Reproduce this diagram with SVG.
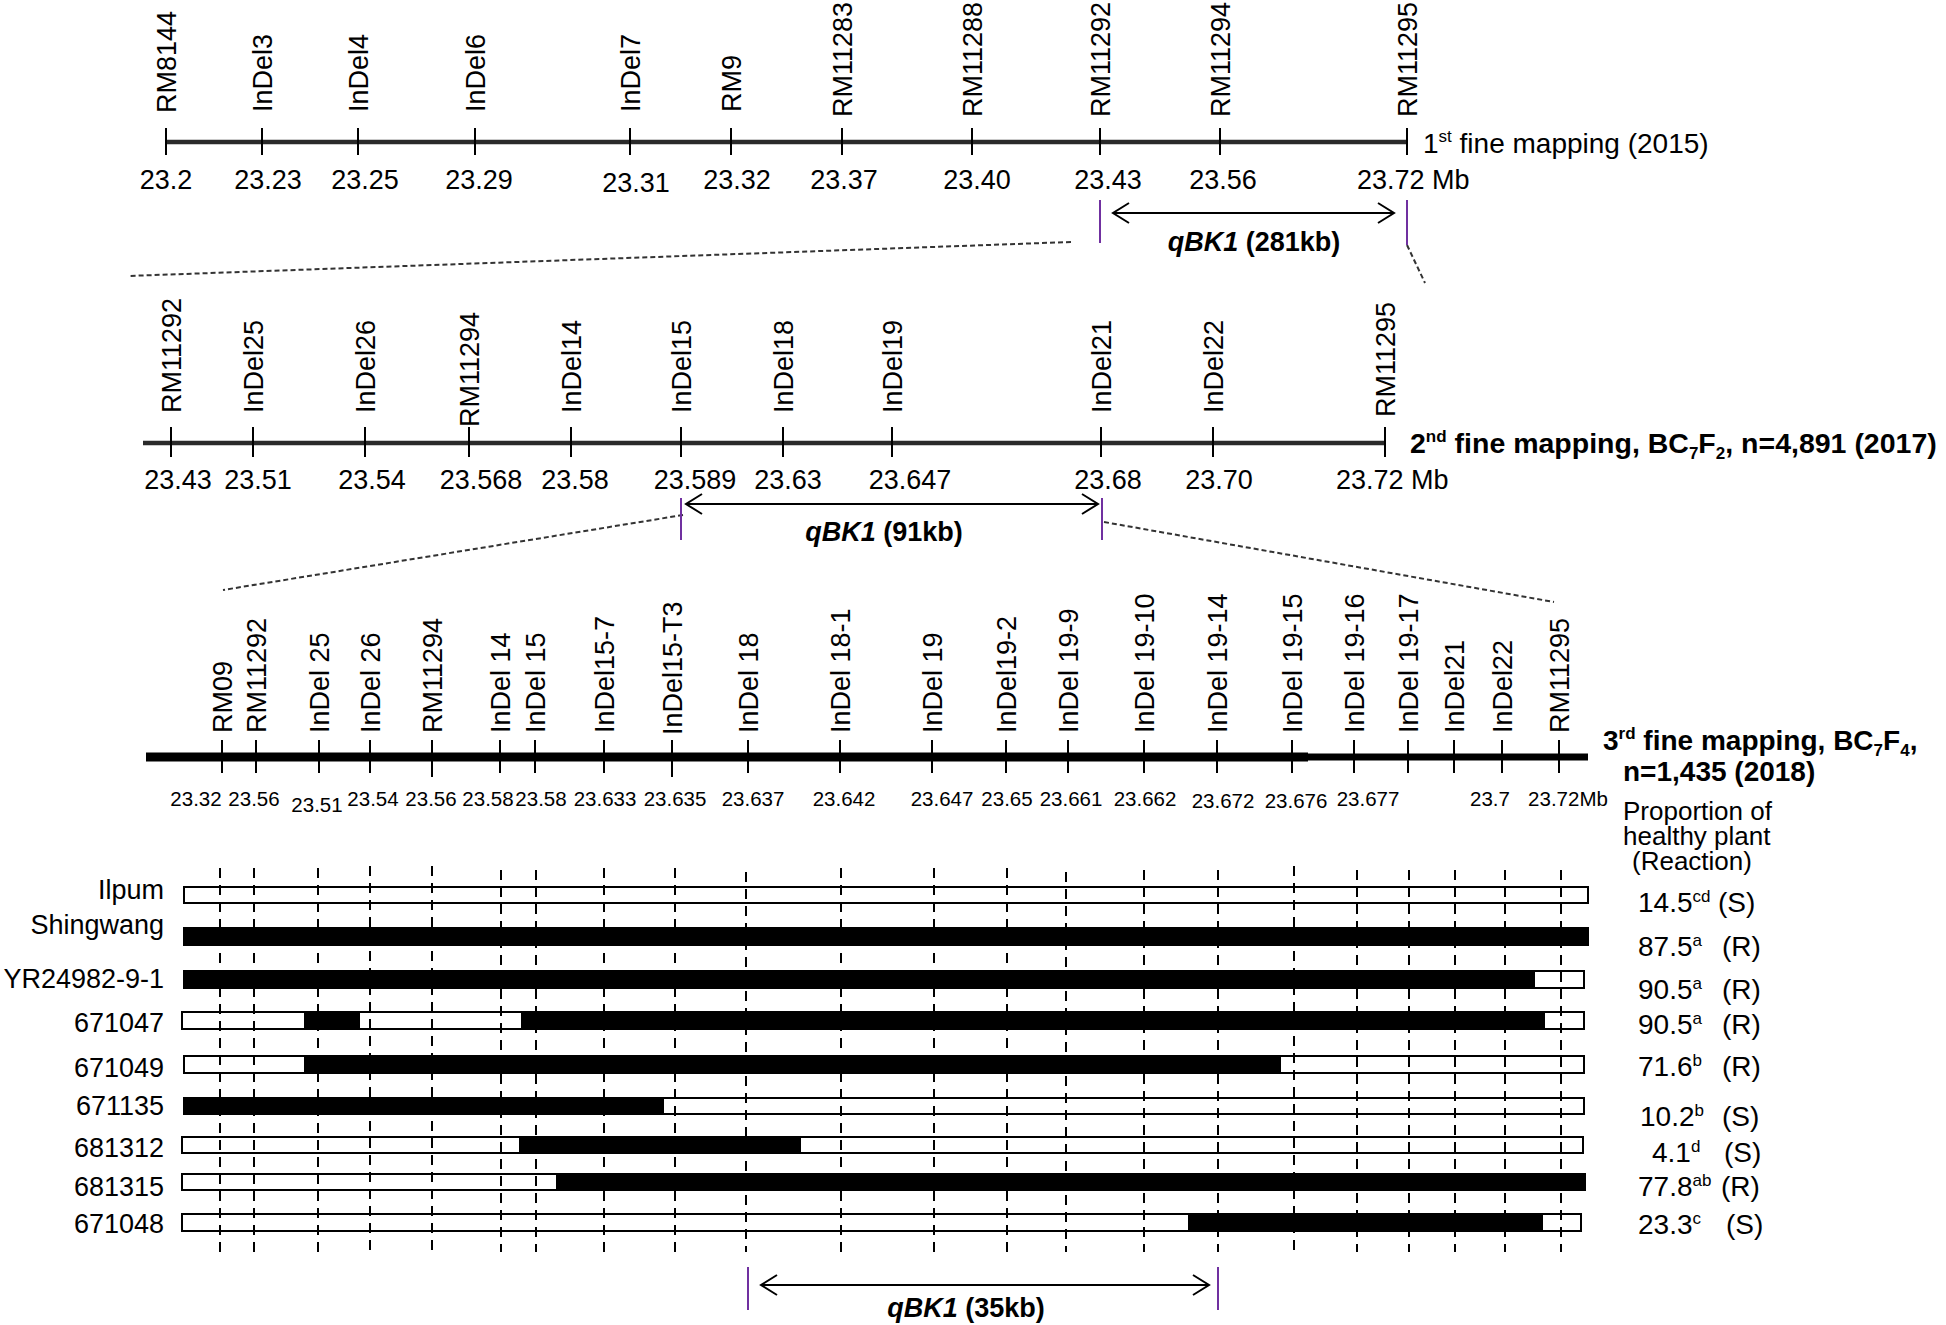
<svg xmlns="http://www.w3.org/2000/svg" width="1946" height="1325" viewBox="0 0 1946 1325">
<defs>
<style>
text{font-family:"Liberation Sans",Arial,sans-serif;fill:#000}
.lab{font-size:27px}
.num{font-size:27px;text-anchor:middle}
.num3{font-size:20.5px;text-anchor:middle}
.b{font-weight:bold}
.tick{stroke:#000;stroke-width:2}
.axis{stroke:#2a2a2a;stroke-width:4.5}
.axis3{stroke:#000}
.vd{stroke:#000;stroke-width:2;stroke-dasharray:10 7}
.zl{stroke:#333;stroke-width:2;stroke-dasharray:5 3;fill:none}
.pu{stroke:#7030a0;stroke-width:2}
.arr{stroke:#000;stroke-width:2;fill:none;marker-start:url(#chev);marker-end:url(#chev)}
.bw{fill:#fff;stroke:#000;stroke-width:2}
.bb{fill:#000;stroke:#000;stroke-width:2}
.val{font-size:28px}
.hdr{font-size:26px}
.sup{font-size:17px}
</style>
<marker id="chev" markerUnits="userSpaceOnUse" markerWidth="24" markerHeight="26" refX="18" refY="12" orient="auto-start-reverse" viewBox="0 0 24 26">
<path d="M2,2 L18,12 L2,22" fill="none" stroke="#000" stroke-width="2"/>
</marker>
</defs>
<rect width="1946" height="1325" fill="#fff"/>

<!-- Tier 1 -->
<g id="tier1">
<line class="axis" x1="166" y1="142" x2="1407" y2="142"/>
<g id="t1-RM8144"><line class="tick" x1="166" y1="128" x2="166" y2="155"/><text class="lab" transform="translate(175.5,113) rotate(-90)">RM8144</text><text class="num" x="166" y="189">23.2</text></g>
<g id="t1-InDel3"><line class="tick" x1="262" y1="128" x2="262" y2="155"/><text class="lab" transform="translate(271.5,112) rotate(-90)">InDel3</text><text class="num" x="268" y="189">23.23</text></g>
<g id="t1-InDel4"><line class="tick" x1="358" y1="128" x2="358" y2="155"/><text class="lab" transform="translate(367.5,112) rotate(-90)">InDel4</text><text class="num" x="365" y="189">23.25</text></g>
<g id="t1-InDel6"><line class="tick" x1="475" y1="128" x2="475" y2="155"/><text class="lab" transform="translate(484.5,112) rotate(-90)">InDel6</text><text class="num" x="479" y="189">23.29</text></g>
<g id="t1-InDel7"><line class="tick" x1="630" y1="128" x2="630" y2="155"/><text class="lab" transform="translate(639.5,112) rotate(-90)">InDel7</text><text class="num" x="636" y="192">23.31</text></g>
<g id="t1-RM9"><line class="tick" x1="731" y1="128" x2="731" y2="155"/><text class="lab" transform="translate(740.5,112) rotate(-90)">RM9</text><text class="num" x="737" y="189">23.32</text></g>
<g id="t1-RM11283"><line class="tick" x1="842" y1="128" x2="842" y2="155"/><text class="lab" transform="translate(851.5,117) rotate(-90)">RM11283</text><text class="num" x="844" y="189">23.37</text></g>
<g id="t1-RM11288"><line class="tick" x1="972" y1="128" x2="972" y2="155"/><text class="lab" transform="translate(981.5,117) rotate(-90)">RM11288</text><text class="num" x="977" y="189">23.40</text></g>
<g id="t1-RM11292"><line class="tick" x1="1100" y1="128" x2="1100" y2="155"/><text class="lab" transform="translate(1109.5,117) rotate(-90)">RM11292</text><text class="num" x="1108" y="189">23.43</text></g>
<g id="t1-RM11294"><line class="tick" x1="1220" y1="128" x2="1220" y2="155"/><text class="lab" transform="translate(1229.5,117) rotate(-90)">RM11294</text><text class="num" x="1223" y="189">23.56</text></g>
<g id="t1-RM11295"><line class="tick" x1="1407" y1="128" x2="1407" y2="155"/><text class="lab" transform="translate(1416.5,117) rotate(-90)">RM11295</text><text class="lab" x="1357" y="189">23.72 Mb</text></g>
<text id="t1-title" class="lab" x="1423" y="153" style="font-size:28px">1<tspan class="sup" dy="-11">st</tspan><tspan dy="11"> fine mapping (2015)</tspan></text>
</g>

<!-- Tier 2 -->
<g id="tier2">
<line class="axis" x1="143" y1="443" x2="1386" y2="443"/>
<g id="t2-RM11292"><line class="tick" x1="171" y1="427" x2="171" y2="457"/><text class="lab" transform="translate(180.5,413) rotate(-90)">RM11292</text><text class="num" x="178" y="489">23.43</text></g>
<g id="t2-InDel25"><line class="tick" x1="253" y1="427" x2="253" y2="457"/><text class="lab" transform="translate(262.5,413) rotate(-90)">InDel25</text><text class="num" x="258" y="489">23.51</text></g>
<g id="t2-InDel26"><line class="tick" x1="365" y1="427" x2="365" y2="457"/><text class="lab" transform="translate(374.5,413) rotate(-90)">InDel26</text><text class="num" x="372" y="489">23.54</text></g>
<g id="t2-RM11294"><line class="tick" x1="469" y1="427" x2="469" y2="457"/><text class="lab" transform="translate(478.5,427) rotate(-90)">RM11294</text><text class="num" x="481" y="489">23.568</text></g>
<g id="t2-InDel14"><line class="tick" x1="571" y1="427" x2="571" y2="457"/><text class="lab" transform="translate(580.5,413) rotate(-90)">InDel14</text><text class="num" x="575" y="489">23.58</text></g>
<g id="t2-InDel15"><line class="tick" x1="681" y1="427" x2="681" y2="457"/><text class="lab" transform="translate(690.5,413) rotate(-90)">InDel15</text><text class="num" x="695" y="489">23.589</text></g>
<g id="t2-InDel18"><line class="tick" x1="783" y1="427" x2="783" y2="457"/><text class="lab" transform="translate(792.5,413) rotate(-90)">InDel18</text><text class="num" x="788" y="489">23.63</text></g>
<g id="t2-InDel19"><line class="tick" x1="892" y1="427" x2="892" y2="457"/><text class="lab" transform="translate(901.5,413) rotate(-90)">InDel19</text><text class="num" x="910" y="489">23.647</text></g>
<g id="t2-InDel21"><line class="tick" x1="1101" y1="427" x2="1101" y2="457"/><text class="lab" transform="translate(1110.5,413) rotate(-90)">InDel21</text><text class="num" x="1108" y="489">23.68</text></g>
<g id="t2-InDel22"><line class="tick" x1="1213" y1="427" x2="1213" y2="457"/><text class="lab" transform="translate(1222.5,413) rotate(-90)">InDel22</text><text class="num" x="1219" y="489">23.70</text></g>
<g id="t2-RM11295"><line class="tick" x1="1385" y1="427" x2="1385" y2="457"/><text class="lab" transform="translate(1394.5,417) rotate(-90)">RM11295</text><text class="lab" x="1336" y="489">23.72 Mb</text></g>
<text id="t2-title" class="lab b" x="1410" y="453" style="font-size:28.5px">2<tspan class="sup" dy="-11">nd</tspan><tspan dy="11"> fine mapping, BC</tspan><tspan class="sup" dy="6">7</tspan><tspan dy="-6">F</tspan><tspan class="sup" dy="6">2</tspan><tspan dy="-6">,  n=4,891 (2017)</tspan></text>
</g>

<!-- Tier 3 -->
<g id="tier3">
<line class="axis3" x1="146" y1="757" x2="1308" y2="757" stroke-width="9"/>
<line class="axis3" x1="1300" y1="757" x2="1588" y2="757" stroke-width="7"/>
<g id="t3-RM09"><line class="tick" x1="222" y1="740" x2="222" y2="773"/><text class="lab" transform="translate(231.5,733) rotate(-90)">RM09</text><text class="num3" x="196" y="806">23.32</text></g>
<g id="t3-RM11292"><line class="tick" x1="256" y1="740" x2="256" y2="773"/><text class="lab" transform="translate(265.5,733) rotate(-90)">RM11292</text><text class="num3" x="254" y="806">23.56</text></g>
<g id="t3-InDel25"><line class="tick" x1="319" y1="740" x2="319" y2="773"/><text class="lab" transform="translate(328.5,733) rotate(-90)">InDel 25</text><text class="num3" x="317" y="812">23.51</text></g>
<g id="t3-InDel26"><line class="tick" x1="370" y1="740" x2="370" y2="773"/><text class="lab" transform="translate(379.5,733) rotate(-90)">InDel 26</text><text class="num3" x="373" y="806">23.54</text></g>
<g id="t3-RM11294"><line class="tick" x1="432" y1="740" x2="432" y2="777"/><text class="lab" transform="translate(441.5,733) rotate(-90)">RM11294</text><text class="num3" x="431" y="806">23.56</text></g>
<g id="t3-InDel14"><line class="tick" x1="500" y1="740" x2="500" y2="773"/><text class="lab" transform="translate(509.5,733) rotate(-90)">InDel 14</text><text class="num3" x="488" y="806">23.58</text></g>
<g id="t3-InDel15"><line class="tick" x1="535" y1="740" x2="535" y2="773"/><text class="lab" transform="translate(544.5,733) rotate(-90)">InDel 15</text><text class="num3" x="541" y="806">23.58</text></g>
<g id="t3-InDel15-7"><line class="tick" x1="604" y1="740" x2="604" y2="773"/><text class="lab" transform="translate(613.5,733) rotate(-90)">InDel15-7</text><text class="num3" x="605" y="806">23.633</text></g>
<g id="t3-InDel15-T3"><line class="tick" x1="672" y1="740" x2="672" y2="777"/><text class="lab" transform="translate(681.5,735) rotate(-90)">InDel15-T3</text><text class="num3" x="675" y="806">23.635</text></g>
<g id="t3-InDel18"><line class="tick" x1="748" y1="740" x2="748" y2="773"/><text class="lab" transform="translate(757.5,733) rotate(-90)">InDel 18</text><text class="num3" x="753" y="806">23.637</text></g>
<g id="t3-InDel18-1"><line class="tick" x1="840" y1="740" x2="840" y2="773"/><text class="lab" transform="translate(849.5,733) rotate(-90)">InDel 18-1</text><text class="num3" x="844" y="806">23.642</text></g>
<g id="t3-InDel19"><line class="tick" x1="932" y1="740" x2="932" y2="773"/><text class="lab" transform="translate(941.5,733) rotate(-90)">InDel 19</text><text class="num3" x="942" y="806">23.647</text></g>
<g id="t3-InDel19-2"><line class="tick" x1="1006" y1="740" x2="1006" y2="773"/><text class="lab" transform="translate(1015.5,733) rotate(-90)">InDel19-2</text><text class="num3" x="1007" y="806">23.65</text></g>
<g id="t3-InDel19-9"><line class="tick" x1="1068" y1="740" x2="1068" y2="773"/><text class="lab" transform="translate(1077.5,733) rotate(-90)">InDel 19-9</text><text class="num3" x="1071" y="806">23.661</text></g>
<g id="t3-InDel19-10"><line class="tick" x1="1144" y1="740" x2="1144" y2="773"/><text class="lab" transform="translate(1153.5,733) rotate(-90)">InDel 19-10</text><text class="num3" x="1145" y="806">23.662</text></g>
<g id="t3-InDel19-14"><line class="tick" x1="1217" y1="740" x2="1217" y2="773"/><text class="lab" transform="translate(1226.5,733) rotate(-90)">InDel 19-14</text><text class="num3" x="1223" y="808">23.672</text></g>
<g id="t3-InDel19-15"><line class="tick" x1="1292" y1="740" x2="1292" y2="773"/><text class="lab" transform="translate(1301.5,733) rotate(-90)">InDel 19-15</text><text class="num3" x="1296" y="808">23.676</text></g>
<g id="t3-InDel19-16"><line class="tick" x1="1354" y1="740" x2="1354" y2="773"/><text class="lab" transform="translate(1363.5,733) rotate(-90)">InDel 19-16</text><text class="num3" x="1368" y="806">23.677</text></g>
<g id="t3-InDel19-17"><line class="tick" x1="1408" y1="740" x2="1408" y2="773"/><text class="lab" transform="translate(1417.5,733) rotate(-90)">InDel 19-17</text></g>
<g id="t3-InDel21"><line class="tick" x1="1454" y1="740" x2="1454" y2="773"/><text class="lab" transform="translate(1463.5,733) rotate(-90)">InDel21</text></g>
<g id="t3-InDel22"><line class="tick" x1="1502" y1="740" x2="1502" y2="773"/><text class="lab" transform="translate(1511.5,733) rotate(-90)">InDel22</text><text class="num3" x="1490" y="806">23.7</text></g>
<g id="t3-RM11295"><line class="tick" x1="1559" y1="740" x2="1559" y2="773"/><text class="lab" transform="translate(1568.5,733) rotate(-90)">RM11295</text><text class="num3" x="1568" y="806">23.72Mb</text></g>
<g id="t3-title">
<text class="lab b" x="1603" y="750" style="font-size:28px">3<tspan class="sup" dy="-11">rd</tspan><tspan dy="11"> fine mapping, BC</tspan><tspan class="sup" dy="6">7</tspan><tspan dy="-6">F</tspan><tspan class="sup" dy="6">4</tspan><tspan dy="-6">,</tspan></text>
<text class="lab b" x="1623" y="781" style="font-size:28px">n=1,435 (2018)</text>
</g>
</g>

<!-- Header of proportion column -->
<g id="prop-header">
<text class="hdr" x="1623" y="820">Proportion  of</text>
<text class="hdr" x="1623" y="845">healthy plant</text>
<text class="hdr" x="1632" y="870">(Reaction)</text>
</g>

<!-- Genotype rows -->
<g id="row-Ilpum"><text class="lab" x="164" y="899" text-anchor="end">Ilpum</text><rect class="bw" x="184" y="887" width="1404" height="16"/>
<text class="val" x="1638" y="912">14.5<tspan class="sup" dy="-10">cd</tspan><tspan x="1718" dy="10">(S)</tspan></text></g>
<g id="row-Shingwang"><text class="lab" x="164" y="934" text-anchor="end">Shingwang</text><rect class="bb" x="184" y="928" width="1404" height="17"/>
<text class="val" x="1638" y="956">87.5<tspan class="sup" dy="-10">a</tspan><tspan x="1722" dy="10">(R)</tspan></text></g>
<g id="row-YR24982-9-1"><text class="lab" x="164" y="988" text-anchor="end">YR24982-9-1</text><rect class="bw" x="184" y="971" width="1400" height="17"/><rect class="bb" x="184" y="971" width="1350" height="17"/>
<text class="val" x="1638" y="999">90.5<tspan class="sup" dy="-10">a</tspan><tspan x="1722" dy="10">(R)</tspan></text></g>
<g id="row-671047"><text class="lab" x="164" y="1032" text-anchor="end">671047</text><rect class="bw" x="182" y="1012" width="1402" height="17"/><rect class="bb" x="305" y="1012" width="54" height="17"/><rect class="bb" x="522" y="1012" width="1022" height="17"/>
<text class="val" x="1638" y="1034">90.5<tspan class="sup" dy="-10">a</tspan><tspan x="1722" dy="10">(R)</tspan></text></g>
<g id="row-671049"><text class="lab" x="164" y="1077" text-anchor="end">671049</text><rect class="bw" x="184" y="1056" width="1400" height="17"/><rect class="bb" x="305" y="1056" width="975" height="17"/>
<text class="val" x="1638" y="1076">71.6<tspan class="sup" dy="-10">b</tspan><tspan x="1722" dy="10">(R)</tspan></text></g>
<g id="row-671135"><text class="lab" x="164" y="1115" text-anchor="end">671135</text><rect class="bw" x="184" y="1098" width="1400" height="16"/><rect class="bb" x="184" y="1098" width="479" height="16"/>
<text class="val" x="1640" y="1126">10.2<tspan class="sup" dy="-10">b</tspan><tspan x="1722" dy="10">(S)</tspan></text></g>
<g id="row-681312"><text class="lab" x="164" y="1157" text-anchor="end">681312</text><rect class="bw" x="182" y="1137" width="1401" height="16"/><rect class="bb" x="520" y="1137" width="280" height="16"/>
<text class="val" x="1652" y="1162">4.1<tspan class="sup" dy="-10">d</tspan><tspan x="1724" dy="10">(S)</tspan></text></g>
<g id="row-681315"><text class="lab" x="164" y="1196" text-anchor="end">681315</text><rect class="bw" x="182" y="1174" width="1403" height="16"/><rect class="bb" x="557" y="1174" width="1028" height="16"/>
<text class="val" x="1638" y="1196">77.8<tspan class="sup" dy="-10">ab</tspan><tspan x="1721" dy="10">(R)</tspan></text></g>
<g id="row-671048"><text class="lab" x="164" y="1233" text-anchor="end">671048</text><rect class="bw" x="182" y="1214" width="1399" height="17"/><rect class="bb" x="1189" y="1214" width="353" height="17"/>
<text class="val" x="1638" y="1234">23.3<tspan class="sup" dy="-10">c</tspan><tspan x="1726" dy="10">(S)</tspan></text></g>

<!-- Vertical dashed guides -->
<g id="guides">
<line class="vd" x1="220" y1="868" x2="220" y2="1252"/>
<line class="vd" x1="254" y1="868" x2="254" y2="1252"/>
<line class="vd" x1="318" y1="868" x2="318" y2="1252"/>
<line class="vd" x1="370" y1="866" x2="370" y2="1252"/>
<line class="vd" x1="432" y1="866" x2="432" y2="1252"/>
<line class="vd" x1="501" y1="870" x2="501" y2="1252"/>
<line class="vd" x1="536" y1="870" x2="536" y2="1252"/>
<line class="vd" x1="604" y1="868" x2="604" y2="1252"/>
<line class="vd" x1="675" y1="868" x2="675" y2="1252"/>
<line class="vd" x1="746" y1="872" x2="746" y2="1252"/>
<line class="vd" x1="841" y1="868" x2="841" y2="1252"/>
<line class="vd" x1="934" y1="868" x2="934" y2="1252"/>
<line class="vd" x1="1007" y1="868" x2="1007" y2="1252"/>
<line class="vd" x1="1066" y1="872" x2="1066" y2="1252"/>
<line class="vd" x1="1144" y1="870" x2="1144" y2="1252"/>
<line class="vd" x1="1218" y1="870" x2="1218" y2="1252"/>
<line class="vd" x1="1294" y1="866" x2="1294" y2="1252"/>
<line class="vd" x1="1357" y1="870" x2="1357" y2="1252"/>
<line class="vd" x1="1409" y1="870" x2="1409" y2="1252"/>
<line class="vd" x1="1455" y1="870" x2="1455" y2="1252"/>
<line class="vd" x1="1505" y1="870" x2="1505" y2="1252"/>
<line class="vd" x1="1561" y1="870" x2="1561" y2="1252"/>
</g>

<!-- Connectors: zoom lines, interval markers and arrows -->
<g id="connectors">
<line class="zl" x1="1071" y1="242" x2="128" y2="276"/>
<line class="zl" x1="1407" y1="245" x2="1425" y2="283"/>
<line class="zl" x1="683" y1="515" x2="223" y2="590"/>
<line class="zl" x1="1104" y1="522" x2="1554" y2="602"/>
<line class="pu" x1="1100" y1="200" x2="1100" y2="243"/>
<line class="pu" x1="1407" y1="200" x2="1407" y2="245"/>
<line class="pu" x1="681" y1="498" x2="681" y2="540"/>
<line class="pu" x1="1102" y1="498" x2="1102" y2="540"/>
<line class="pu" x1="748" y1="1267" x2="748" y2="1310"/>
<line class="pu" x1="1218" y1="1267" x2="1218" y2="1310"/>
<line class="arr" x1="1113" y1="213" x2="1394" y2="213"/>
<line class="arr" x1="686" y1="504" x2="1098" y2="504"/>
<line class="arr" x1="761" y1="1285" x2="1209" y2="1285"/>
</g>

<g id="interval-labels">
<text class="lab b" x="1254" y="251" text-anchor="middle" style="font-size:27px"><tspan font-style="italic">qBK1</tspan> (281kb)</text>
<text class="lab b" x="884" y="541" text-anchor="middle" style="font-size:27px"><tspan font-style="italic">qBK1</tspan> (91kb)</text>
<text class="lab b" x="966" y="1317" text-anchor="middle" style="font-size:27px"><tspan font-style="italic">qBK1</tspan> (35kb)</text>
</g>
</svg>
